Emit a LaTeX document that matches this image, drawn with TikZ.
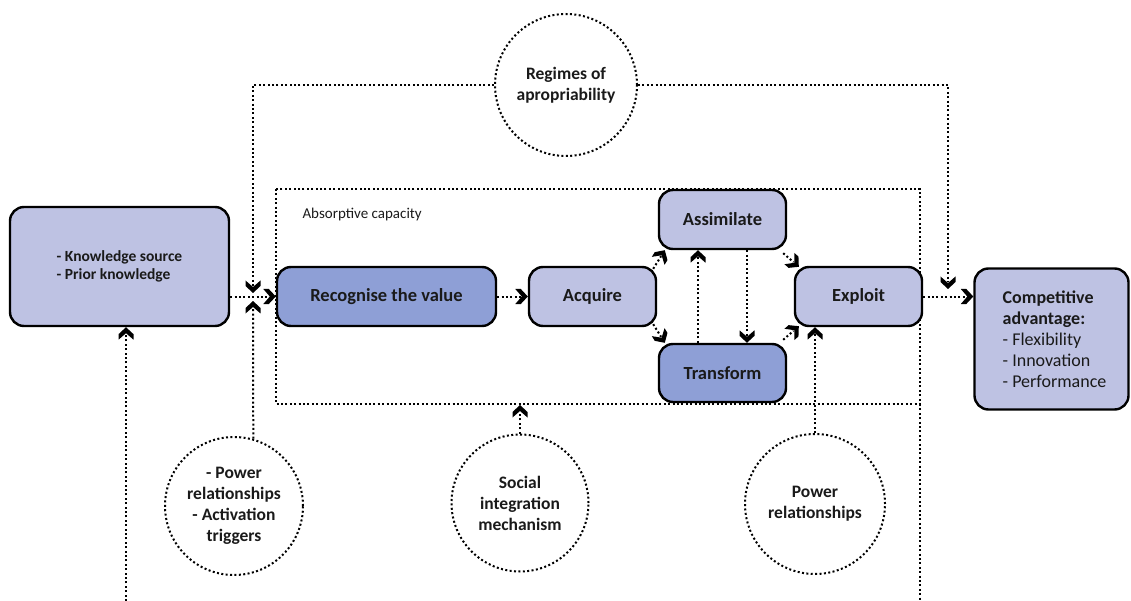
\documentclass[tikz,border=0pt]{standalone}
\usepackage{fontspec}
\setmainfont{Carlito}
\usetikzlibrary{arrows.meta}
\definecolor{lightfill}{HTML}{BEC2E3}
\definecolor{darkfill}{HTML}{8E9FD6}
\definecolor{ink}{HTML}{1A1A1A}
% thick filled chevron used as arrow head
\pgfdeclarearrow{
  name = Chev,
  setup code = {
    \pgfarrowssettipend{0pt}
    \pgfarrowssetbackend{-12.5pt}
    \pgfarrowssetlineend{-7pt}
    \pgfarrowsupperhullpoint{0pt}{0pt}
    \pgfarrowsupperhullpoint{-7pt}{7.5pt}
    \pgfarrowsupperhullpoint{-12.5pt}{7.5pt}
  },
  drawing code = {
    \pgfpathmoveto{\pgfqpoint{0pt}{0pt}}
    \pgfpathlineto{\pgfqpoint{-7pt}{7.5pt}}
    \pgfpathlineto{\pgfqpoint{-12.5pt}{7.5pt}}
    \pgfpathlineto{\pgfqpoint{-6pt}{0pt}}
    \pgfpathlineto{\pgfqpoint{-12.5pt}{-7.5pt}}
    \pgfpathlineto{\pgfqpoint{-7pt}{-7.5pt}}
    \pgfpathclose
    \pgfusepathqfill
  },
  defaults = {}
}
\begin{document}
\begin{tikzpicture}[x=1pt,y=-1pt,
  box/.style={draw=black, line width=2.4pt, rounded corners=14pt, inner sep=0pt,
    font=\bfseries\fontsize{18.5}{20}\selectfont, text=ink, align=center},
  lightbox/.style={box, fill=lightfill},
  darkbox/.style={box, fill=darkfill},
  dotline/.style={line width=2pt, dash pattern=on 2pt off 2.4pt},
  circ/.style={circle, draw, dotline, align=center, inner sep=0pt,
    font=\bfseries\fontsize{17.5}{21}\selectfont, text=ink},
  conn/.style={dotline, -Chev}
]
\useasboundingbox (0,0) rectangle (1131,601);

% absorptive capacity frame, its right side running down to the bottom edge
\coordinate (fnw) at (276,189);
\coordinate (fse) at (920,404);
\coordinate (fbot) at (920,601);
\draw[dotline] (fnw) rectangle (fse);
\draw[dotline] (fse) -- (fbot);
\node[anchor=west, font=\fontsize{15}{17}\selectfont, text=ink] (abslabel) at (299,215) {Absorptive capacity};

% process boxes
\node[lightbox, minimum width=219pt, minimum height=119pt,
  font=\bfseries\fontsize{15.5}{17.5}\selectfont, align=left] (know) at (119.5,266.5)
  {- Knowledge source\\- Prior knowledge};
\node[darkbox, minimum width=219pt, minimum height=59pt] (recog) at (386.5,296.5) {Recognise the value};
\node[lightbox, minimum width=127pt, minimum height=59pt] (acq) at (592.5,296.5) {Acquire};
\node[lightbox, minimum width=127pt, minimum height=59pt] (assim) at (722.5,219.5) {Assimilate};
\node[darkbox, minimum width=127pt, minimum height=58pt] (trans) at (722.5,373) {Transform};
\node[lightbox, minimum width=127pt, minimum height=59pt] (expl) at (858.5,296.5) {Exploit};
\node[lightbox, minimum width=154pt, minimum height=141pt,
  font=\fontsize{18}{21}\selectfont, align=left] (comp) at (1051.5,339)
  {\hspace*{6pt}\textbf{Competitive}\\\hspace*{6pt}\textbf{advantage:}\\\hspace*{6pt}- Flexibility\\\hspace*{6pt}- Innovation\\\hspace*{6pt}- Performance};

% contextual factors
\node[circ, minimum size=142pt] (regimes) at (566,85) {Regimes of\\apropriability};
\node[circ, minimum size=138pt] (powact) at (234,506) {- Power\\relationships\\- Activation\\triggers};
\node[circ, minimum size=137pt] (social) at (520,503) {Social\\integration\\mechanism};
\node[circ, minimum size=140pt] (power) at (815,504) {Power\\relationships};

% junction points
\coordinate (jtop) at (253,293);
\coordinate (jbot) at (253,301);
\coordinate (ctop) at (948,289);
\coordinate (lbot) at (126,601);
\coordinate (scin) at (520,405);

% main flow
\draw[conn] (know.east |- recog.west) -- (recog.west);
\draw[conn] (recog.east) -- (acq.west);
\draw[conn] ([shift={(-4,3)}]acq.north east) -- ([shift={(7,0)}]assim.south west);
\draw[conn] ([shift={(-4,-3)}]acq.south east) -- ([shift={(7,0)}]trans.north west);
\draw[conn] (trans.north -| 698,0) -- (assim.south -| 698,0);
\draw[conn] (assim.south -| 747,0) -- (trans.north -| 747,0);
\draw[conn] ([shift={(-4,3)}]assim.south east) -- ([shift={(5,1)}]expl.north west);
\draw[conn] ([shift={(-4,-3)}]trans.north east) -- ([shift={(5,-1)}]expl.south west);
\draw[conn] (expl.east) -- (comp.west |- expl.east);

% influences
\draw[conn] (regimes.west) -| (jtop);
\draw[conn] (regimes.east) -| (ctop);
\draw[conn] (powact.74) -- (jbot);
\draw[conn] (social.north) -- (scin);
\draw[conn] (power.north) -- (expl.south -| power.north);
\draw[conn] (lbot) -- (know.south -| lbot);
\end{tikzpicture}
\end{document}
